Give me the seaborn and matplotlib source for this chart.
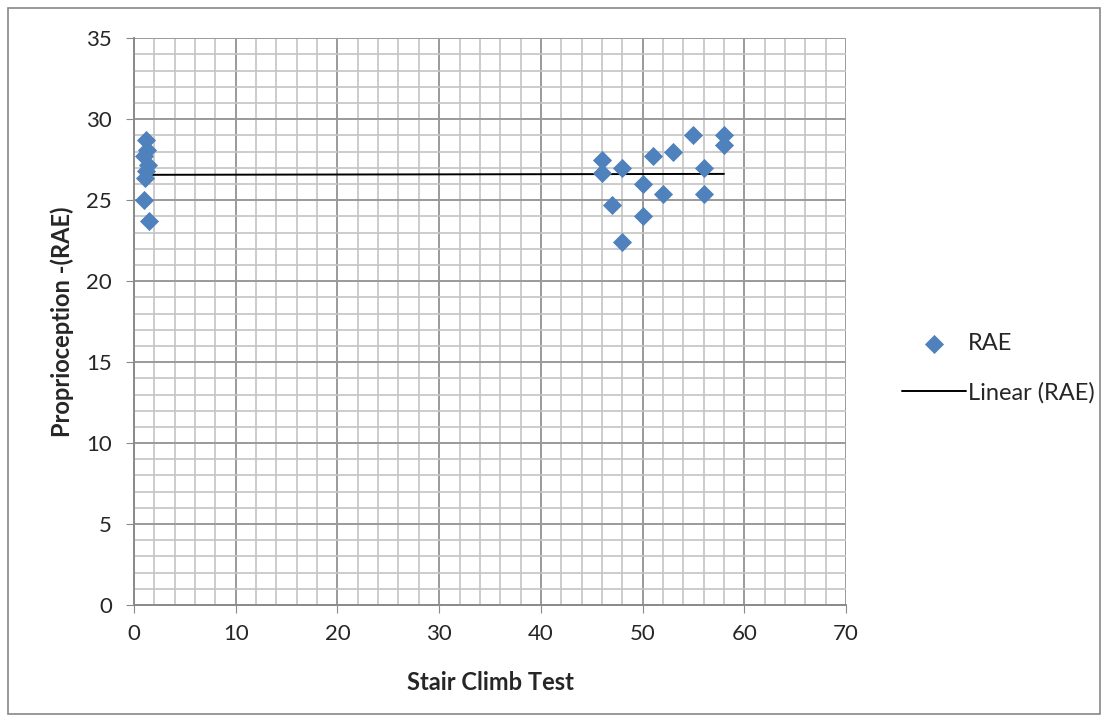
import matplotlib.pyplot as plt
import matplotlib.patches as mpatches
from matplotlib.ticker import MultipleLocator
import numpy as np
import pandas as pd
import seaborn as sb

# data
stair_left = [1.2, 1.3, 1.0, 1.4, 1.2, 1.1, 1.0, 1.5]
rae_left = [28.7, 28.1, 27.7, 27.2, 26.8, 26.4, 25.0, 23.7]
stair_right = [46, 46, 47, 48, 48, 50, 50, 51, 52, 53, 55, 56, 56, 58, 58]
rae_right = [27.5, 26.7, 24.7, 27.0, 22.4, 26.0, 24.0, 27.7, 25.4, 28.0,
             29.0, 27.0, 25.4, 29.0, 28.4]

df = pd.DataFrame({"stair": stair_left + stair_right,
                   "rae": rae_left + rae_right})

sb.set_style("white")
plt.rcParams['font.family'] = ['Lato', 'DejaVu Sans']

fig = plt.figure(figsize=(11.08, 7.22), dpi=100)
ax = fig.add_axes([0.121, 0.162, 0.6425, 0.785])

# chart border
fig.patches.append(mpatches.Rectangle((0.007, 0.011), 0.986, 0.978,
                   transform=fig.transFigure, fill=False,
                   edgecolor="#888888", linewidth=1.2))

sb.regplot(data=df, x="stair", y="rae", ax=ax, scatter=False, ci=None,
           truncate=True, color="black", line_kws={"lw": 1.4, "zorder": 3},
           label="Linear (RAE)")
sb.scatterplot(data=df, x="stair", y="rae", ax=ax, marker="D", s=95,
               color="#4F81BD", edgecolor="#4F81BD", linewidth=0,
               zorder=4, label="RAE")

ax.set_xlim(0, 70)
ax.set_ylim(0, 35)
ax.xaxis.set_major_locator(MultipleLocator(10))
ax.xaxis.set_minor_locator(MultipleLocator(2))
ax.yaxis.set_major_locator(MultipleLocator(5))
ax.yaxis.set_minor_locator(MultipleLocator(1))
ax.grid(which="major", color="#9a9a9a", linewidth=1.4)
ax.grid(which="minor", color="#c4c4c4", linewidth=1.2)
ax.set_axisbelow(True)
for s in ["top", "right"]:
    ax.spines[s].set_visible(False)
for s in ["left", "bottom"]:
    ax.spines[s].set_color("#8a8a8a")
    ax.spines[s].set_linewidth(1.4)
ax.tick_params(which="major", direction="out", length=6, color="#8a8a8a",
               labelsize=16, left=True, bottom=True)
ax.tick_params(axis="x", pad=8)
ax.tick_params(axis="y", pad=10)
ax.tick_params(which="minor", length=0)

ax.set_xlabel("Stair Climb Test", fontsize=17, fontweight="bold", labelpad=19)
ax.set_ylabel("Proprioception -(RAE)", fontsize=17, fontweight="bold", labelpad=9)

h, l = ax.get_legend_handles_labels()
order = [l.index("RAE"), l.index("Linear (RAE)")]
ax.legend([h[i] for i in order], [l[i] for i in order],
          loc="center left", bbox_to_anchor=(0.795, 0.49),
          bbox_transform=fig.transFigure, frameon=False, fontsize=17,
          handlelength=2.7, labelspacing=1.2, handletextpad=0.1)

plt.savefig("out.png", dpi=100)
